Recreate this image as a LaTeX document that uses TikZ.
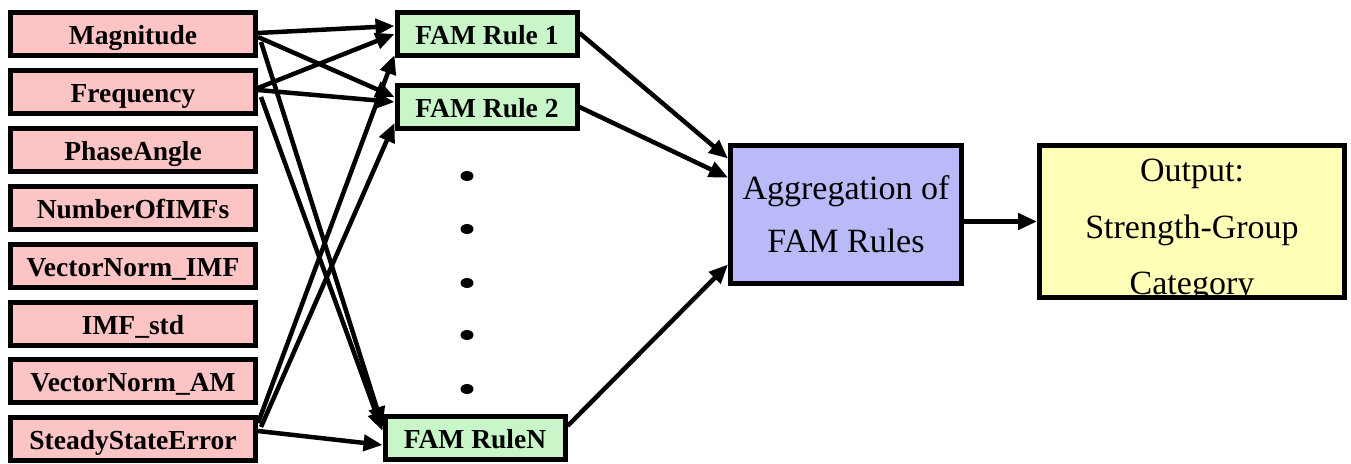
\documentclass[tikz,border=0pt]{standalone}
\usepackage{fontspec}
\setmainfont{Liberation Serif}
\usetikzlibrary{arrows.meta,calc}
\definecolor{pinkf}{RGB}{252,196,196}
\definecolor{greenf}{RGB}{200,246,200}
\definecolor{bluef}{RGB}{186,186,248}
\definecolor{yellowf}{RGB}{255,255,184}
\begin{document}
\begin{tikzpicture}[x=1pt,y=-1pt,
  inbox/.style={draw=black, line width=5pt, fill=pinkf, minimum width=245pt, minimum height=43pt, inner sep=0pt, text height=20pt, text depth=0pt, font=\fontsize{27.5}{30}\selectfont\bfseries},
  rulebox/.style={draw=black, line width=5pt, fill=greenf, minimum width=180pt, minimum height=43pt, inner sep=0pt, text height=20pt, text depth=0pt, font=\fontsize{27.5}{30}\selectfont\bfseries},
  bigtxt/.style={font=\fontsize{34}{40}\selectfont, inner sep=0pt},
  conn/.style={line width=4.5pt, -{Triangle[length=19pt,width=16pt]}}]
\useasboundingbox (0,0) rectangle (1351,463);
% inputs
\node[inbox] (mag)  at (133,34)  {Magnitude};
\node[inbox] (freq) at (133,92)  {Frequency};
\node[inbox] (pha)  at (133,150) {PhaseAngle};
\node[inbox] (nim)  at (133,208) {NumberOfIMFs};
\node[inbox] (vni)  at (133,266) {VectorNorm\_IMF};
\node[inbox] (ims)  at (133,324) {IMF\_std};
\node[inbox] (vna)  at (133,381) {VectorNorm\_AM};
\node[inbox] (sse)  at (133,439) {SteadyStateError};
% rules
\node[rulebox] (r1) at (487,34)  {FAM Rule 1};
\node[rulebox] (r2) at (487,107) {FAM Rule 2};
\node[rulebox] (rn) at (475,438) {FAM RuleN};
% dots
\foreach \yy in {176,229,283,335,389}
  \fill (467,\yy) ellipse (6.5pt and 5pt);
% aggregation
\node[draw=black, line width=5pt, fill=bluef, minimum width=231pt, minimum height=138pt, inner sep=0pt, align=center,
      font=\fontsize{34}{53}\selectfont] (agg) at (846,214.5) {Aggregation of\\FAM Rules};
% output
\node[draw=black, line width=5pt, fill=yellowf, minimum width=305pt, minimum height=152pt, inner sep=0pt] (out) at (1192,221.5) {};
\begin{scope}
  \clip ($(out.south west)+(2.5,-2.5)$) rectangle ($(out.north east)+(-2.5,2.5)$);
  \node[bigtxt, anchor=base] (o1) at (1192,181) {Output:};
  \node[bigtxt, anchor=base] (o2) at (1192,238) {Strength-Group};
  \node[bigtxt, anchor=base] (o3) at (1192,294) {Category};
\end{scope}
% connectors from inputs
\draw[conn] ($(mag.east)+(0,-1)$)  -- ($(r1.west)+(0,-8)$);
\draw[conn] ($(mag.east)+(0,3)$)   -- ($(r2.west)+(0,-10)$);
\draw[conn] ($(mag.east)+(3,8)$)   -- ($(rn.west)+(0,-12)$);
\draw[conn] ($(freq.east)+(0,-4)$) -- ($(r1.west)+(0,0)$);
\draw[conn] ($(freq.east)+(0,-2)$) -- ($(r2.west)+(0,-5)$);
\draw[conn] ($(freq.east)+(3,5)$)  -- ($(rn.west)+(0,-7)$);
\draw[conn] ($(sse.east)+(0,-16)$) -- ($(r1.west)+(0,21)$);
\draw[conn] ($(sse.east)+(3,-12)$) -- ($(r2.west)+(0,16)$);
\draw[conn] ($(sse.east)+(0,-8)$)  -- ($(rn.west)+(0,7)$);
% rules to aggregation
\draw[conn] ($(r1.east)+(0,-1)$) -- ($(agg.west)+(0,-56)$);
\draw[conn] ($(r2.east)+(0,0)$)  -- ($(agg.west)+(0,-37)$);
\draw[conn] ($(rn.east)+(0,-12)$) -- ($(agg.west)+(0,50)$);
% aggregation to output
\draw[conn] (agg.east |- out.west) -- (out.west);
\end{tikzpicture}
\end{document}
